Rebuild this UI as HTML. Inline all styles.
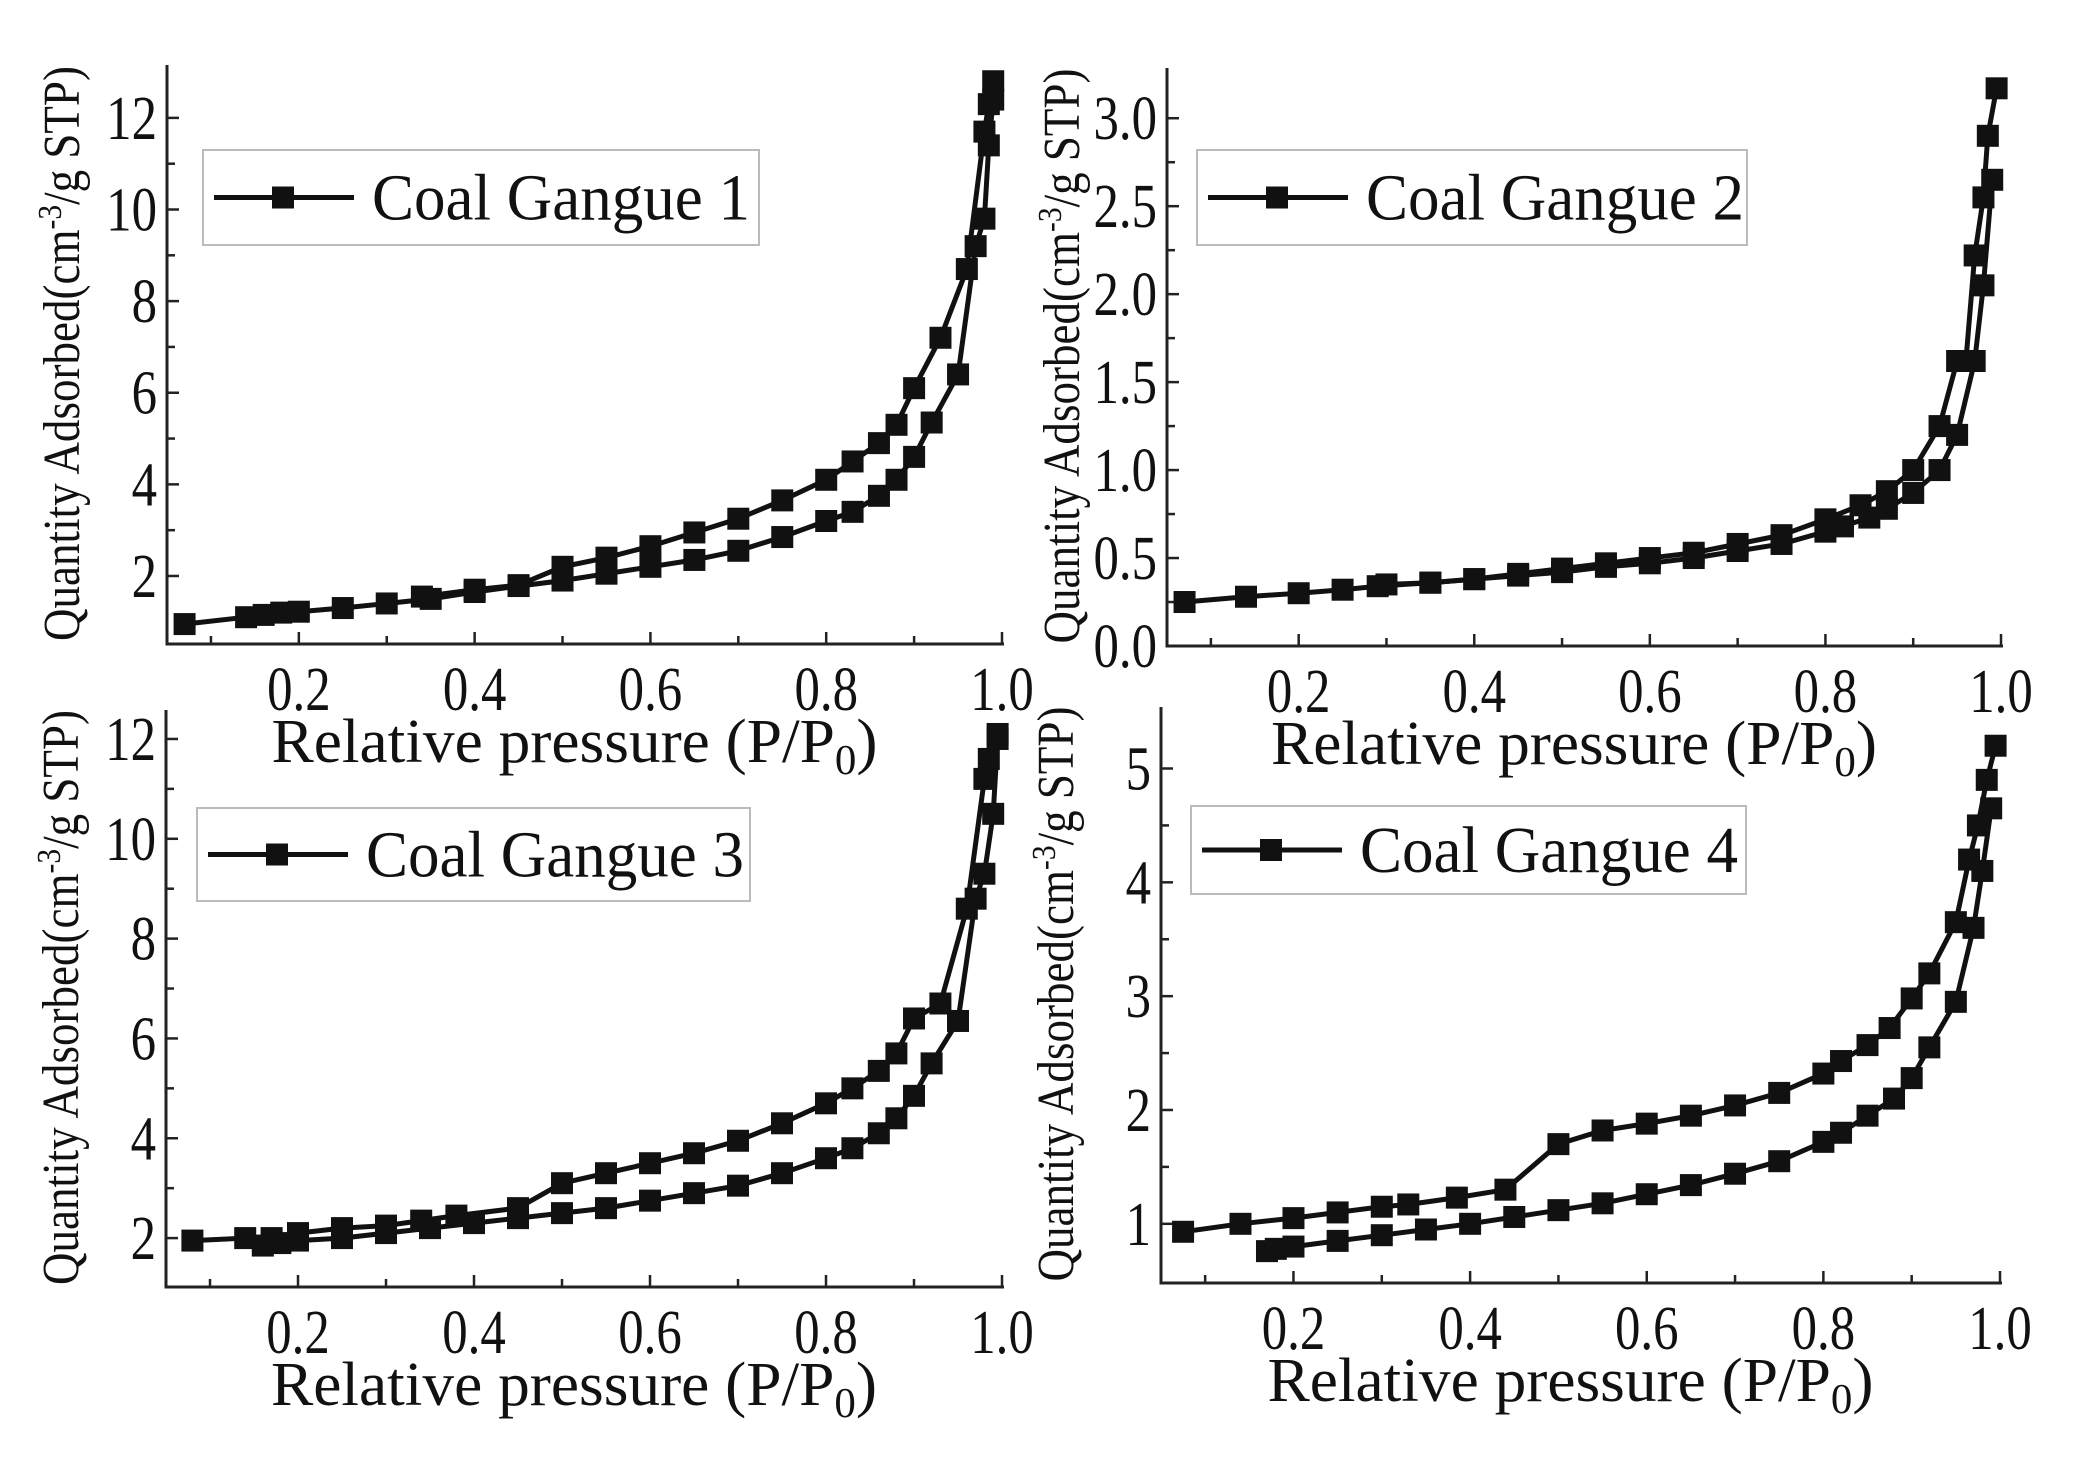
<!DOCTYPE html>
<html><head><meta charset="utf-8"><style>
html,body{margin:0;padding:0;background:#fff;}
svg{display:block;}
text{font-family:"Liberation Serif",serif;fill:#111;}
</style></head><body>
<svg id="s" width="2086" height="1472" viewBox="0 0 2086 1472" xmlns="http://www.w3.org/2000/svg"></svg>
<script>
const S=document.getElementById('s');let h='';
const panels=[
{L:167,R:1002,T:73,B:644,ymin:0.515,ymax:12.98,yt:[2,4,6,8,10,12],ym:[3,5,7,9,11],fmt:v=>v,leg:[203,150,759,245],name:'Coal Gangue 1',
lo:[[0.07,0.95],[0.14,1.1],[0.16,1.15],[0.18,1.2],[0.2,1.22],[0.25,1.3],[0.3,1.4],[0.35,1.5],[0.4,1.65],[0.45,1.78],[0.5,1.9],[0.55,2.05],[0.6,2.2],[0.65,2.35],[0.7,2.55],[0.75,2.85],[0.8,3.2],[0.83,3.4],[0.86,3.75],[0.88,4.1],[0.9,4.6],[0.92,5.35],[0.95,6.4],[0.97,9.2],[0.98,9.8],[0.985,11.4],[0.99,12.4]],
up:[[0.99,12.8],[0.985,12.3],[0.98,11.7],[0.96,8.7],[0.93,7.2],[0.9,6.1],[0.88,5.3],[0.86,4.9],[0.83,4.5],[0.8,4.1],[0.75,3.65],[0.7,3.25],[0.65,2.95],[0.6,2.65],[0.55,2.4],[0.5,2.2],[0.45,1.8],[0.4,1.7],[0.34,1.55]]},
{L:1167,R:2001,T:76,B:646,ymin:0,ymax:3.24,yt:[0,0.5,1,1.5,2,2.5,3],ym:[0.25,0.75,1.25,1.75,2.25,2.75],fmt:v=>v.toFixed(1),leg:[1197,150,1747,245],name:'Coal Gangue 2',
lo:[[0.07,0.25],[0.14,0.28],[0.2,0.3],[0.25,0.32],[0.29,0.34],[0.35,0.36],[0.4,0.38],[0.45,0.4],[0.5,0.42],[0.55,0.45],[0.6,0.47],[0.65,0.5],[0.7,0.54],[0.75,0.58],[0.8,0.65],[0.82,0.68],[0.85,0.73],[0.87,0.78],[0.9,0.87],[0.93,1.0],[0.95,1.2],[0.97,1.62],[0.98,2.05],[0.99,2.65]],
up:[[0.995,3.17],[0.985,2.9],[0.98,2.55],[0.97,2.22],[0.96,1.62],[0.95,1.62],[0.93,1.25],[0.9,1.0],[0.87,0.88],[0.84,0.8],[0.8,0.72],[0.75,0.63],[0.7,0.58],[0.65,0.53],[0.6,0.5],[0.55,0.47],[0.5,0.44],[0.45,0.41],[0.4,0.38],[0.35,0.36],[0.3,0.35]]},
{L:166,R:1002,T:718,B:1287,ymin:1.02,ymax:12.42,yt:[2,4,6,8,10,12],ym:[3,5,7,9,11],fmt:v=>v,leg:[197,808,750,901],name:'Coal Gangue 3',
lo:[[0.08,1.95],[0.14,2.0],[0.16,1.85],[0.18,1.9],[0.2,1.95],[0.25,2.0],[0.3,2.1],[0.35,2.2],[0.4,2.3],[0.45,2.4],[0.5,2.5],[0.55,2.6],[0.6,2.75],[0.65,2.9],[0.7,3.05],[0.75,3.3],[0.8,3.6],[0.83,3.8],[0.86,4.1],[0.88,4.4],[0.9,4.85],[0.92,5.5],[0.95,6.35],[0.97,8.8],[0.98,9.3],[0.99,10.5],[0.995,12.0]],
up:[[0.995,12.1],[0.985,11.6],[0.98,11.2],[0.96,8.6],[0.93,6.7],[0.9,6.4],[0.88,5.7],[0.86,5.35],[0.83,5.0],[0.8,4.7],[0.75,4.3],[0.7,3.95],[0.65,3.7],[0.6,3.5],[0.55,3.3],[0.5,3.1],[0.45,2.6],[0.38,2.45],[0.34,2.35],[0.3,2.25],[0.25,2.2],[0.2,2.1],[0.17,2.0]]},
{L:1161,R:2000,T:715,B:1283,ymin:0.48,ymax:5.47,yt:[1,2,3,4,5],ym:[1.5,2.5,3.5,4.5],fmt:v=>v,leg:[1191,806,1746,894],name:'Coal Gangue 4',
lo:[[0.17,0.76],[0.18,0.78],[0.2,0.8],[0.25,0.85],[0.3,0.9],[0.35,0.95],[0.4,1.0],[0.45,1.06],[0.5,1.12],[0.55,1.18],[0.6,1.26],[0.65,1.34],[0.7,1.44],[0.75,1.55],[0.8,1.72],[0.82,1.8],[0.85,1.95],[0.88,2.1],[0.9,2.28],[0.92,2.55],[0.95,2.95],[0.97,3.6],[0.98,4.1],[0.99,4.65]],
up:[[0.995,5.2],[0.985,4.9],[0.975,4.5],[0.965,4.2],[0.95,3.65],[0.92,3.2],[0.9,2.98],[0.875,2.72],[0.85,2.57],[0.82,2.43],[0.8,2.32],[0.75,2.15],[0.7,2.04],[0.65,1.95],[0.6,1.88],[0.55,1.82],[0.5,1.7],[0.44,1.3],[0.385,1.23],[0.33,1.17],[0.3,1.15],[0.25,1.1],[0.2,1.05],[0.14,1.0],[0.075,0.93]]}
];
const T=(x,y,fs,anchor,txt)=>`<text transform="translate(${x},${y}) scale(0.82,1)" font-size="${fs}" text-anchor="${anchor}">${txt}</text>`;
for(const p of panels){
 const X=v=>p.L+(v-0.05)/(0.95)*(p.R-p.L);
 const Y=v=>p.B-(v-p.ymin)/(p.ymax-p.ymin)*(p.B-p.T);
 h+=`<path d="M${p.L} ${p.T-8}V${p.B}H${p.R+2}" fill="none" stroke="#222" stroke-width="3"/>`;
 for(let i=1;i<=10;i++){const v=i/10,x=X(v);const maj=i%2==0;
  h+=`<line x1="${x}" y1="${p.B}" x2="${x}" y2="${p.B-(maj?12:8)}" stroke="#222" stroke-width="2.5"/>`;
  if(maj)h+=T(x,p.B+66,62,'middle',v.toFixed(1));}
 for(const v of p.yt){const y=Y(v);h+=`<line x1="${p.L}" y1="${y}" x2="${p.L+12}" y2="${y}" stroke="#222" stroke-width="2.5"/>`+T(p.L-10,y+21,62,'end',p.fmt(v));}
 for(const v of p.ym){const y=Y(v);h+=`<line x1="${p.L}" y1="${y}" x2="${p.L+8}" y2="${y}" stroke="#222" stroke-width="2.5"/>`;}
 const cx=(p.L+p.R)/2-10;
 h+=`<text x="${cx}" y="${p.B+118}" font-size="62" text-anchor="middle" textLength="606" lengthAdjust="spacingAndGlyphs">Relative pressure (P/P<tspan font-size="42" dy="12">0</tspan><tspan dy="-12">)</tspan></text>`;
 const ty=(p.T+p.B)/2-5, tx=p.L-88;
 h+=`<text transform="translate(${tx},${ty}) rotate(-90)" font-size="52" text-anchor="middle" textLength="575" lengthAdjust="spacingAndGlyphs">Quantity Adsorbed(cm<tspan font-size="34" dy="-18">-3</tspan><tspan dy="18">/g STP)</tspan></text>`;
 for(const s of [p.lo,p.up]){
  h+=`<polyline points="${s.map(d=>X(d[0]).toFixed(1)+','+Y(d[1]).toFixed(1)).join(' ')}" fill="none" stroke="#111" stroke-width="5"/>`;
  for(const d of s)h+=`<rect x="${X(d[0])-11}" y="${Y(d[1])-11}" width="22" height="22" fill="#111"/>`;}
 const [a,b,c,d]=p.leg,my=(b+d)/2;
 h+=`<rect x="${a}" y="${b}" width="${c-a}" height="${d-b}" fill="#fff" stroke="#bbb" stroke-width="2"/>`;
 h+=`<line x1="${a+11}" y1="${my}" x2="${a+151}" y2="${my}" stroke="#111" stroke-width="5"/><rect x="${a+69}" y="${my-11}" width="22" height="22" fill="#111"/>`;
 h+=`<text x="${a+169}" y="${my+22}" font-size="66" textLength="378" lengthAdjust="spacingAndGlyphs">${p.name}</text>`;
}
S.innerHTML=h;
</script>
</body></html>
